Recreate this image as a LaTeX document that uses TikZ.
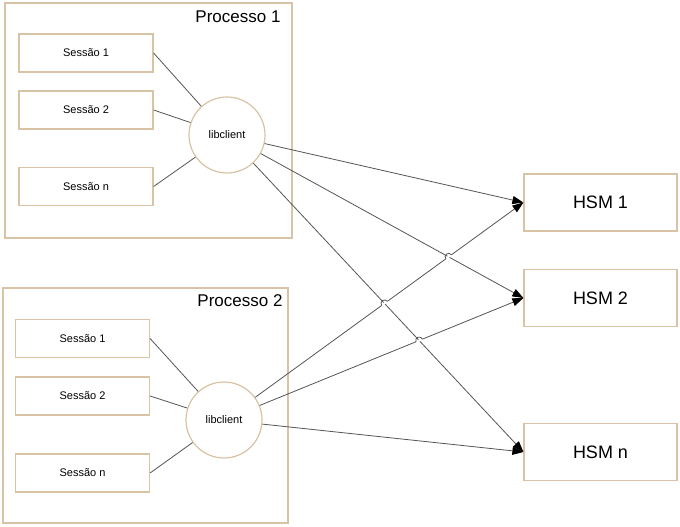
\documentclass[tikz,border=0pt]{standalone}
\usepackage{fontspec}
\setmainfont{Liberation Sans}
\usetikzlibrary{arrows.meta,intersections,calc}
\definecolor{tan}{HTML}{D8C3A5}
\definecolor{ln}{HTML}{555555}
\begin{document}
\begin{tikzpicture}[x=1pt,y=-1pt,
  frame/.style={draw=tan,line width=1.2pt},
  sess/.style={draw=tan,line width=1.2pt,minimum width=134pt,minimum height=38pt,font=\fontsize{11}{13}\selectfont,inner sep=0pt},
  lib/.style={draw=tan,line width=1.2pt,circle,minimum size=76pt,font=\fontsize{11}{13}\selectfont,inner sep=0pt},
  hsm/.style={draw=tan,line width=1.2pt,minimum width=153pt,minimum height=57pt,font=\fontsize{18}{20}\selectfont,inner sep=0pt},
  title/.style={font=\fontsize{17}{20}\selectfont,inner sep=0pt},
  wire/.style={draw=ln,line width=0.8pt},
  arr/.style={wire,-{Triangle[length=11pt,width=8pt,color=black]}}]
\useasboundingbox (0,0) rectangle (680,527);
\fill[white] (0,0) rectangle (680,527);
% Processo 1
\draw[frame] (5,3) rectangle (292,238);
\node[title] (t1) at (238,17) {Processo 1};
\node[sess] (s11) at (86,53) {Sessão 1};
\node[sess] (s12) at (86,110) {Sessão 2};
\node[sess] (s1n) at (86,186.5) {Sessão n};
\node[lib] (l1) at (227,135) {libclient};
% Processo 2
\draw[frame] (3,288) rectangle (288,523);
\node[title] (t2) at (240,301) {Processo 2};
\node[sess] (s21) at (82.5,338.5) {Sessão 1};
\node[sess] (s22) at (82.5,396) {Sessão 2};
\node[sess] (s2n) at (82.5,473) {Sessão n};
\node[lib] (l2) at (224,420) {libclient};
% HSMs
\node[hsm] (h1) at (600.5,202.5) {HSM 1};
\node[hsm] (h2) at (600.5,298) {HSM 2};
\node[hsm] (hn) at (600.5,452) {HSM n};
% wires
\foreach \s in {s11,s12,s1n} \draw[wire] (\s.east) -- (l1);
\foreach \s in {s21,s22,s2n} \draw[wire] (\s.east) -- (l2);
\draw[arr,name path=A1] (l1) -- (h1.west);
\draw[arr,name path=A2] (l1) -- (h2.west);
\draw[arr,name path=A3] (l1) -- (hn.west);
\draw[arr,name path=B1] (l2) -- (h1.west);
\draw[arr,name path=B2] (l2) -- (h2.west);
\draw[arr] (l2) -- (hn.west);
% line hops
\path[name intersections={of=A2 and B1,by=xa}];
\path[name intersections={of=A3 and B1,by=xb}];
\path[name intersections={of=A3 and B2,by=xc}];
\foreach \p/\h in {xa/h1,xb/h1,xc/h2} {
  \path let \p1=($(\h.west)-(l2.center)$), \n1={atan2(\y1,\x1)} in
    \pgfextra{\xdef\hopang{\n1}};
  \begin{scope}[shift={(\p)},rotate=\hopang]
    \draw[white,line width=2pt] (-3.5,0) -- (3.5,0);
    \draw[wire] (-3.5,0) arc[start angle=180,end angle=360,radius=3.5];
  \end{scope}
}
\end{tikzpicture}
\end{document}
